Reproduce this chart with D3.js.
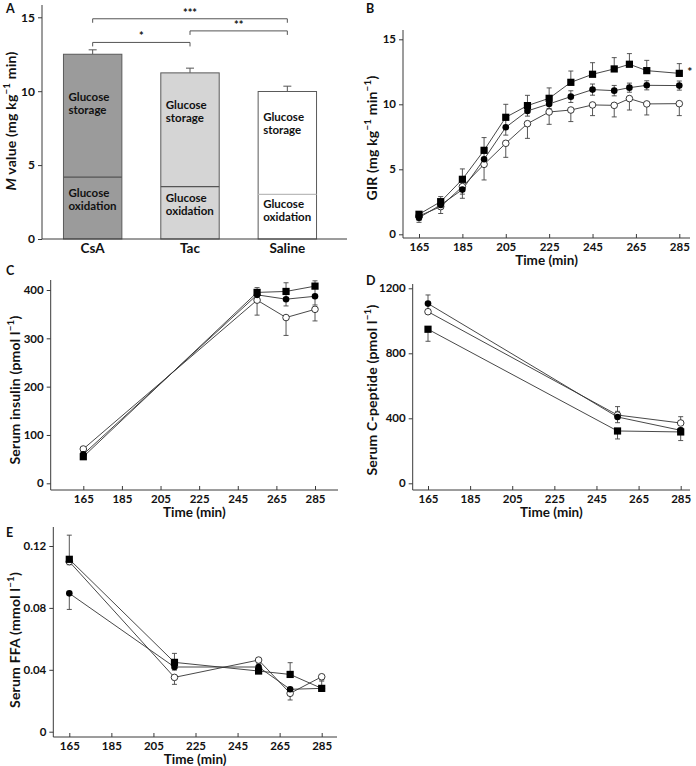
<!DOCTYPE html>
<html><head><meta charset="utf-8">
<script src="https://cdn.jsdelivr.net/npm/d3@7"></script>
<style>
html,body{margin:0;padding:0;background:#fff;}
svg{display:block;font-family:Lato,"Open Sans",sans-serif;}
text{fill:#111;}
</style></head>
<body><svg id="chart" width="696" height="766"></svg>
<script>
// ---------- DATA ----------
// Panel A
const barCategories = ["CsA", "Tac", "Saline"];
const barTotal = [12.5, 11.24, 9.98];
const barTotalErr = [0.3, 0.32, 0.36];
const barOxidation = [4.18, 3.54, 3.02];
const sigFrom = ["CsA", "Tac", "CsA"];
const sigTo = ["Saline", "Saline", "Tac"];
const sigLabel = ["***", "**", "*"];
const sigLevel = [14.9, 14.08, 13.3];

// Panel B: GIR
const girTime = [165, 175, 185, 195, 205, 215, 225, 235, 245, 255, 262, 270, 285];
const girCsA = [1.54, 2.51, 4.23, 6.46, 9.0, 9.9, 10.46, 11.69, 12.31, 12.72, 13.08, 12.59, 12.38];
const girCsAErr = [0.2, 0.39, 0.8, 0.98, 1.0, 0.79, 0.8, 0.87, 0.89, 0.87, 0.82, 0.79, 0.75];
const girTac = [1.28, 2.26, 3.44, 5.77, 8.23, 9.49, 10.03, 10.59, 11.13, 11.05, 11.28, 11.46, 11.44];
const girTacErr = [0.2, 0.3, 0.35, 0.5, 0.6, 0.4, 0.35, 0.45, 0.43, 0.4, 0.35, 0.35, 0.35];
const girSaline = [1.41, 2.13, 3.67, 5.38, 7.0, 8.51, 9.41, 9.56, 9.95, 9.92, 10.44, 10.03, 10.05];
const girSalineErr = [0.49, 0.53, 0.9, 1.2, 1.08, 1.13, 0.95, 0.89, 0.82, 0.89, 0.88, 0.85, 0.92];

// Panel C: serum insulin
const insTime = [165, 255, 270, 285];
const insCsA = [55, 395, 397, 408];
const insCsAErr = [5, 10, 18, 11];
const insTac = [60, 390, 381, 387];
const insTacErr = [5, 8, 14, 18];
const insSaline = [71, 379, 343, 360];
const insSalineErr = [5, 31, 37, 24];

// Panel D: serum C-peptide
const cpTime = [165, 255, 285];
const cpCsA = [948, 322, 316];
const cpCsAErr = [74, 49, 53];
const cpTac = [1106, 408, 326];
const cpTacErr = [53, 35, 15];
const cpSaline = [1056, 420, 371];
const cpSalineErr = [14, 52, 39];

// Panel E: serum FFA
const ffaTime = [165, 215, 255, 270, 285];
const ffaCsA = [0.1114, 0.0448, 0.0392, 0.0370, 0.028];
const ffaCsAErr = [0.0156, 0.0058, 0.002, 0.0076, 0.0047];
const ffaTac = [0.0894, 0.0418, 0.0418, 0.0274, 0.028];
const ffaTacErr = [0.0104, 0.002, 0.002, 0.002, 0.002];
const ffaSaline = [0.1099, 0.0351, 0.0463, 0.0248, 0.0355];
const ffaSalineErr = [0.002, 0.0045, 0.002, 0.0043, 0.002];

const timeTicks = [165, 185, 205, 225, 245, 265, 285];

// ---------- DRAWING ----------
const svg = d3.select("#chart");
const AX = "#3a3a3a";
const LINE = "#333";

function panelLetter(t, x, y) {
  svg.append("text").attr("x", x).attr("y", y).attr("font-size", 12.5).attr("font-weight", 700).text(t);
}
function supTitle(t, parts) {
  parts.forEach(([s, m]) => {
    const ts = t.append("tspan").text(s);
    if (m === "s") ts.attr("font-size", "0.7em").attr("baseline-shift", "super");
    if (m === "i") ts.attr("font-style", "italic");
  });
}
function yTitle(x, y, parts) {
  const t = svg.append("text").attr("transform", `translate(${x},${y}) rotate(-90)`)
    .attr("text-anchor", "middle").attr("font-size", 14).attr("letter-spacing", 0.2).attr("font-weight", 700);
  supTitle(t, parts);
}

function styleAxis(g) {
  g.select(".domain").remove();
  g.selectAll(".tick line").attr("stroke", AX).attr("stroke-width", 1);
  g.selectAll(".tick text").attr("font-size", 11.5).attr("font-weight", 700)
    .attr("font-family", "Lato, sans-serif").attr("fill", "#111");
}

// ----- Panel A -----
(function () {
  const y = d3.scaleLinear().domain([0, 15]).range([239, 17.3]);
  const x = d3.scaleBand().domain(barCategories).range([44, 336]).paddingInner(0.4).paddingOuter(0.2);
  const fills = ["#9b9b9b", "#d5d5d5", "#ffffff"];
  const g = svg.append("g");
  barCategories.forEach((c, i) => {
    const bx = x(c), bw = x.bandwidth();
    g.append("line").attr("x1", bx + bw / 2).attr("x2", bx + bw / 2)
      .attr("y1", y(barTotal[i])).attr("y2", y(barTotal[i] + barTotalErr[i])).attr("stroke", "#555");
    g.append("line").attr("x1", bx + bw / 2 - 4).attr("x2", bx + bw / 2 + 4)
      .attr("y1", y(barTotal[i] + barTotalErr[i])).attr("y2", y(barTotal[i] + barTotalErr[i])).attr("stroke", "#555");
    g.append("rect").attr("x", bx).attr("y", y(barTotal[i])).attr("width", bw)
      .attr("height", y(0) - y(barTotal[i])).attr("fill", fills[i]).attr("stroke", "#5a5a5a").attr("stroke-width", 1);
    g.append("line").attr("x1", bx).attr("x2", bx + bw).attr("y1", y(barOxidation[i])).attr("y2", y(barOxidation[i]))
      .attr("stroke", i === 2 ? "#bbb" : "#555").attr("stroke-width", 1.2);
    const storY = [96.5, 104.5, 116.5][i];
    const oxY = [193, 198, 204][i];
    [["Glucose", storY], ["storage", storY + 13], ["Glucose", oxY], ["oxidation", oxY + 13]].forEach(([t, ty]) => {
      g.append("text").attr("x", bx + 5).attr("y", ty + 4).attr("font-size", 11.5).attr("font-weight", 700).text(t);
    });
    g.append("text").attr("x", bx + bw / 2).attr("y", 253).attr("text-anchor", "middle")
      .attr("font-size", 13.5).attr("font-weight", 700).text(c);
  });
  sigLabel.forEach((s, i) => {
    const x1 = x(sigFrom[i]) + x.bandwidth() / 2, x2 = x(sigTo[i]) + x.bandwidth() / 2, yy = y(sigLevel[i]);
    g.append("path").attr("d", `M${x1},${yy + 4}V${yy}H${x2}V${yy + 4}`).attr("fill", "none").attr("stroke", "#555");
    g.append("text").attr("x", (x1 + x2) / 2).attr("y", yy - 2).attr("text-anchor", "middle")
      .attr("font-size", 11).attr("font-weight", 700).text(s);
  });
  const ya = g.append("g").attr("transform", "translate(42,0)")
    .call(d3.axisLeft(y).tickValues([0, 5, 10, 15]).tickSize(4).tickPadding(3));
  styleAxis(ya);
  ya.selectAll(".tick text").attr("font-size", 12);
  g.append("line").attr("x1", 42).attr("x2", 42).attr("y1", 5).attr("y2", 239).attr("stroke", AX);
  g.append("line").attr("x1", 42).attr("x2", 347).attr("y1", 239).attr("y2", 239).attr("stroke", AX);
  panelLetter("A", 6, 13);
  yTitle(16, 121, [["M", "i"], [" value (mg kg", "n"], ["−1", "s"], [" min)", "n"]]);
})();

// ----- Generic line panel -----
function linePanel(cfg) {
  const x = d3.scaleLinear().domain([165, 285]).range(cfg.xr);
  const y = d3.scaleLinear().domain(cfg.yd).range(cfg.yr);
  const g = svg.append("g");
  const ya = g.append("g").attr("transform", `translate(${cfg.ax},0)`)
    .call(d3.axisLeft(y).tickValues(cfg.yTicks).tickFormat(cfg.fmt).tickSize(4).tickPadding(3));
  styleAxis(ya);
  const xa = g.append("g").attr("transform", `translate(0,${cfg.ay})`)
    .call(d3.axisBottom(x).tickValues(timeTicks).tickSize(-4).tickPadding(5));
  styleAxis(xa);
  g.append("line").attr("x1", cfg.ax).attr("x2", cfg.ax).attr("y1", cfg.top).attr("y2", cfg.ay).attr("stroke", AX);
  g.append("line").attr("x1", cfg.ax).attr("x2", cfg.right).attr("y1", cfg.ay).attr("y2", cfg.ay).attr("stroke", AX);
  const line = d3.line().x(d => x(d[0])).y(d => y(d[1]));
  cfg.series.forEach(s => {
    const pts = cfg.time.map((t, i) => [t, s.v[i]]);
    g.append("path").attr("d", line(pts)).attr("fill", "none").attr("stroke", LINE).attr("stroke-width", 0.9);
  });
  cfg.series.forEach(s => {
    cfg.time.forEach((t, i) => {
      const cx = x(t), v = s.v[i], e = s.e[i];
      const dirs = s.dir === "both" ? [1, -1] : [s.dir === "up" ? 1 : -1];
      dirs.forEach(d => {
        const ye = y(v + d * e);
        g.append("line").attr("x1", cx).attr("x2", cx).attr("y1", y(v)).attr("y2", ye).attr("stroke", "#444").attr("stroke-width", 0.9);
        g.append("line").attr("x1", cx - 2.5).attr("x2", cx + 2.5).attr("y1", ye).attr("y2", ye).attr("stroke", "#444").attr("stroke-width", 0.9);
      });
    });
  });
  cfg.series.forEach(s => {
    cfg.time.forEach((t, i) => {
      const cx = x(t), cy = y(s.v[i]);
      if (s.shape === "square") {
        g.append("rect").attr("x", cx - 3.6).attr("y", cy - 3.6).attr("width", 7.2).attr("height", 7.2).attr("fill", "#000");
      } else if (s.shape === "dot") {
        g.append("circle").attr("cx", cx).attr("cy", cy).attr("r", 3.3).attr("fill", "#000");
      } else {
        g.append("circle").attr("cx", cx).attr("cy", cy).attr("r", 3.3).attr("fill", "#fff").attr("stroke", "#222").attr("stroke-width", 0.9);
      }
    });
  });
  svg.append("text").attr("x", (cfg.ax + cfg.right) / 2 + cfg.tdx).attr("y", cfg.ay + 27).attr("text-anchor", "middle")
    .attr("font-size", 13.5).attr("font-weight", 700).text("Time (min)");
  panelLetter(cfg.letter, cfg.lx, cfg.ly);
  yTitle(cfg.tx, cfg.ty, cfg.title);
  return { x, y, g };
}

// ----- Panel B -----
const pB = linePanel({
  xr: [419, 679.3], yd: [0, 15], yr: [234.3, 39.3], yTicks: [0, 5, 10, 15], fmt: d3.format("d"),
  ax: 403, ay: 238, top: 30, right: 690, time: girTime, tdx: 0,
  series: [
    { v: girSaline, e: girSalineErr, dir: "down", shape: "open" },
    { v: girTac, e: girTacErr, dir: "both", shape: "dot" },
    { v: girCsA, e: girCsAErr, dir: "up", shape: "square" }
  ],
  letter: "B", lx: 366, ly: 13, tx: 377, ty: 138,
  title: [["GIR (mg kg", "n"], ["−1", "s"], [" min", "n"], ["−1", "s"], [")", "n"]]
});
pB.g.append("text").attr("x", pB.x(285) + 8).attr("y", pB.y(girCsA[girCsA.length - 1]) + 3)
  .attr("font-size", 12).attr("font-weight", 700).attr("fill", "#444").text("*");

// ----- Panel C -----
linePanel({
  xr: [83.3, 315], yd: [0, 400], yr: [483.3, 290], yTicks: [0, 100, 200, 300, 400], fmt: d3.format("d"),
  ax: 50.7, ay: 490, top: 280, right: 338, time: insTime, tdx: 0,
  series: [
    { v: insSaline, e: insSalineErr, dir: "down", shape: "open" },
    { v: insTac, e: insTacErr, dir: "both", shape: "dot" },
    { v: insCsA, e: insCsAErr, dir: "up", shape: "square" }
  ],
  letter: "C", lx: 6, ly: 275, tx: 20, ty: 390,
  title: [["Serum insulin (pmol l", "n"], ["−1", "s"], [")", "n"]]
});

// ----- Panel D -----
linePanel({
  xr: [428, 680.7], yd: [0, 1200], yr: [483.3, 288.3], yTicks: [0, 400, 800, 1200], fmt: d3.format("d"),
  ax: 412.7, ay: 490, top: 284, right: 690, time: cpTime, tdx: 0,
  series: [
    { v: cpSaline, e: cpSalineErr, dir: "up", shape: "open" },
    { v: cpTac, e: cpTacErr, dir: "both", shape: "dot" },
    { v: cpCsA, e: cpCsAErr, dir: "down", shape: "square" }
  ],
  letter: "D", lx: 366, ly: 285, tx: 377, ty: 390,
  title: [["Serum C-peptide (pmol l", "n"], ["−1", "s"], [")", "n"]]
});

// ----- Panel E -----
linePanel({
  xr: [69.3, 321.7], yd: [0, 0.12], yr: [731.7, 546], yTicks: [0, 0.04, 0.08, 0.12],
  fmt: d => d === 0 ? "0" : d3.format(".2f")(d),
  ax: 53.3, ay: 737, top: 527, right: 337, time: ffaTime, tdx: 0,
  series: [
    { v: ffaSaline, e: ffaSalineErr, dir: "down", shape: "open" },
    { v: ffaTac, e: ffaTacErr, dir: "down", shape: "dot" },
    { v: ffaCsA, e: ffaCsAErr, dir: "up", shape: "square" }
  ],
  letter: "E", lx: 6, ly: 537, tx: 20, ty: 640,
  title: [["Serum FFA (mmol l", "n"], ["−1", "s"], [")", "n"]]
});
</script></body></html>
